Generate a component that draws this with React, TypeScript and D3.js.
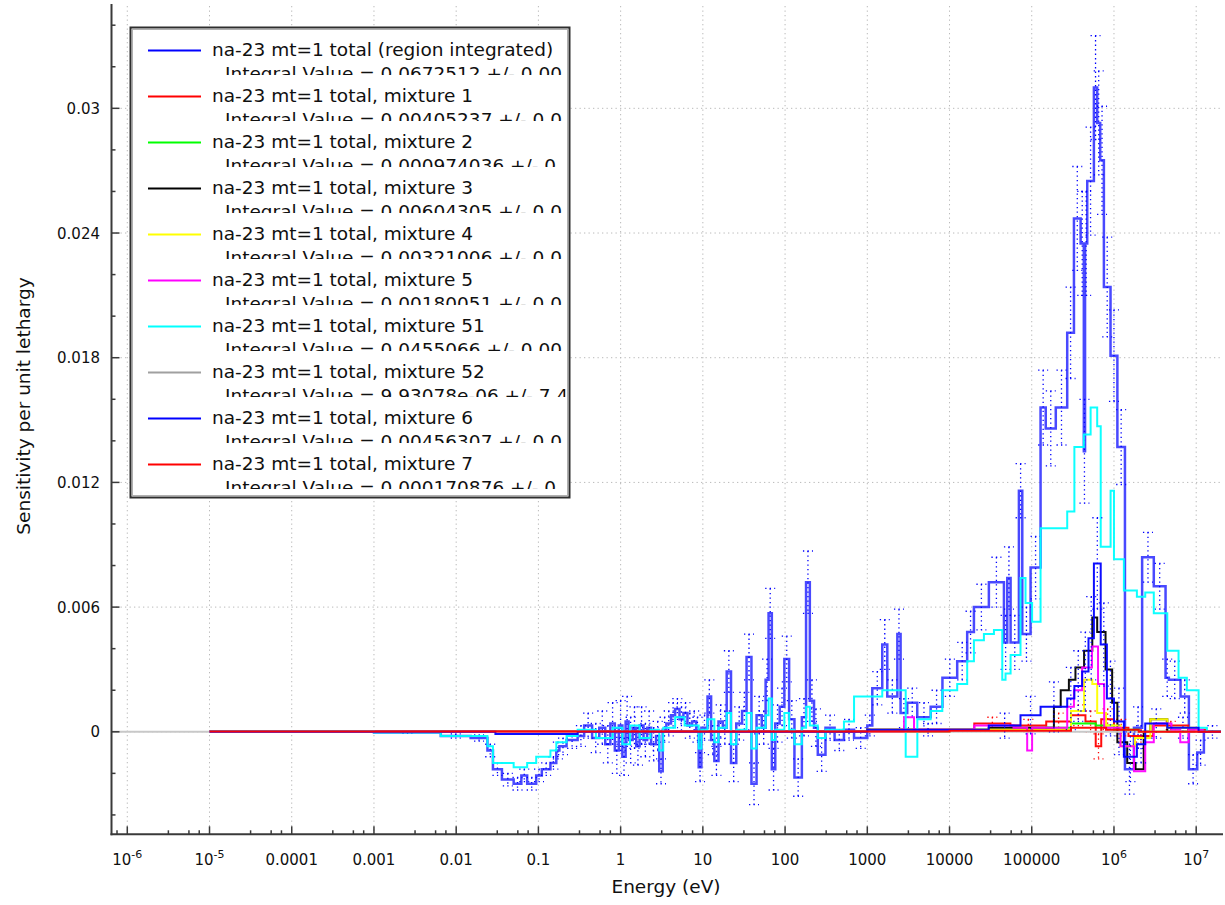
import React from "react";
import * as d3 from "d3";

// Each bin: [lower energy edge (eV), sensitivity per unit lethargy, 1-sigma uncertainty]
type Bin = [number, number, number];

const ENERGY_END = 2.0e7;

const regionIntegrated: Bin[] = [
  [1e-5, 0.00001, 0.00002], [1e-4, 0.0, 0.00002], [1e-3, -0.00003, 0.00004],
  [0.0065, -0.0002, 0.0001], [0.015, -0.0003, 0.00015], [0.024, -0.0009, 0.0003],
  [0.028, -0.0018, 0.0003], [0.036, -0.0023, 0.0003], [0.05, -0.0025, 0.0003],
  [0.062, -0.0021, 0.0003], [0.073, -0.0025, 0.0003], [0.094, -0.0021, 0.0003],
  [0.11, -0.0018, 0.0003], [0.14, -0.0015, 0.0003], [0.165, -0.0009, 0.0004],
  [0.18, -0.0007, 0.0004], [0.22, -0.0004, 0.0004], [0.3, -0.0002, 0.0005],
  [0.36, 0.0003, 0.0006], [0.45, -0.0003, 0.0007], [0.55, 0.0002, 0.0008],
  [0.65, -0.0006, 0.0009], [0.75, 0.0004, 0.001], [0.85, -0.0009, 0.0011],
  [0.95, 0.0003, 0.0012], [1.05, -0.0012, 0.0009], [1.15, 0.0005, 0.0012],
  [1.25, -0.0004, 0.0011], [1.4, 0.0002, 0.001], [1.55, -0.0007, 0.0009],
  [1.7, 0.0003, 0.0009], [1.9, -0.0004, 0.0008], [2.1, 0.0002, 0.0008],
  [2.35, -0.0006, 0.0008], [2.7, -0.0002, 0.0007], [2.95, -0.0019, 0.0006],
  [3.25, 0.0001, 0.0006], [3.6, 0.0004, 0.0006], [4.1, 0.0008, 0.0006],
  [4.6, 0.0011, 0.0005], [5.2, 0.0006, 0.0006], [5.8, 0.0009, 0.0005],
  [6.5, 0.0003, 0.0006], [7.4, 0.0005, 0.0005], [8.3, 0.0001, 0.0006],
  [8.9, -0.0017, 0.0007], [9.6, 0.0002, 0.0006], [11.4, 0.0017, 0.0008],
  [12.6, -0.0004, 0.0007], [13.8, -0.0014, 0.0007], [15.5, 0.0005, 0.0008],
  [17.5, 0.0002, 0.0008], [19.5, 0.0029, 0.001], [22, -0.0015, 0.0009],
  [25.5, 0.0004, 0.0008], [30, 0.001, 0.0009], [34, 0.0036, 0.0011],
  [39, -0.0025, 0.001], [45, 0.0008, 0.0009], [52, 0.0002, 0.0008],
  [58, 0.0025, 0.001], [63, 0.0057, 0.0012], [69, -0.0018, 0.001],
  [76, 0.0004, 0.0009], [86, 0.0012, 0.0009], [98, 0.0035, 0.0011],
  [112, 0.0006, 0.0009], [130, -0.0022, 0.0009], [160, 0.0007, 0.0009],
  [180, 0.0072, 0.0015], [200, 0.0015, 0.001], [225, 0.0002, 0.0009],
  [250, -0.0011, 0.0008], [310, 0.0002, 0.0006], [400, -0.0004, 0.0005],
  [520, 0.0001, 0.0005], [690, -0.0003, 0.0005], [1000, 0.0003, 0.0005],
  [1150, 0.0021, 0.0008], [1520, 0.0042, 0.0012], [1750, 0.0017, 0.0008],
  [2320, 0.0047, 0.0012], [2540, 0.0009, 0.0007], [3060, 0.0014, 0.0007],
  [4050, 0.0007, 0.0007], [5900, 0.0012, 0.0008], [8200, 0.0026, 0.0009],
  [12400, 0.0034, 0.0009], [16400, 0.0048, 0.001], [19800, 0.006, 0.0011],
  [30100, 0.0072, 0.0012], [45900, 0.0043, 0.0013], [50400, 0.0074, 0.0015],
  [55300, 0.0043, 0.0013], [69800, 0.0116, 0.0013], [76700, 0.0047, 0.0013],
  [96800, 0.0079, 0.0015], [128000, 0.0156, 0.0018], [148000, 0.0146, 0.0018],
  [196000, 0.0156, 0.0018], [270000, 0.0192, 0.0022], [326000, 0.0247, 0.0025],
  [393000, 0.0235, 0.0025], [430000, 0.0135, 0.0025], [445000, 0.0235, 0.0025],
  [473000, 0.0265, 0.0026], [570000, 0.031, 0.0025], [625000, 0.0293, 0.0025],
  [680000, 0.0275, 0.0026], [754000, 0.0214, 0.0024], [908000, 0.0181, 0.0022],
  [1.1e6, 0.0137, 0.0018], [1.36e6, -0.0018, 0.0012], [1.75e6, 0.0002, 0.001],
  [2.2e6, 0.0084, 0.0012], [3.05e6, 0.007, 0.0011], [4.24e6, 0.0026, 0.0009],
  [4.65e6, 0.0025, 0.0009], [6.45e6, 0.0017, 0.0008], [8.15e6, -0.0018, 0.0007],
  [1.03e7, -0.001, 0.0006], [1.24e7, 0.0, 0.0003],
];

const mixture1: Bin[] = [
  [1e-5, 0.00003, 0], [1000, 0.0001, 0], [20000, 0.0004, 0.0003], [55000, 0.0003, 0.0003],
  [150000, 0.0005, 0.0004], [300000, 0.0008, 0.0005], [450000, 0.0005, 0.0005],
  [600000, -0.0007, 0.0006], [700000, 0.0006, 0.0005], [1.0e6, 0.0002, 0.0004],
  [1.5e6, -0.0002, 0.0003], [3.0e6, 0.0003, 0.0002], [8.0e6, 0.0001, 0], [1.3e7, 0, 0],
];

const mixture2: Bin[] = [
  [1e-5, 0, 0], [10000, 0.0001, 0], [150000, 0.0002, 0], [300000, 0.0004, 0],
  [600000, 0.0003, 0], [1.0e6, 0.0001, 0], [2.0e6, 0, 0],
];

const mixture3: Bin[] = [
  [1e-5, 0, 0], [1000, 0.0001, 0], [30000, 0.0002, 0], [106000, 0.0002, 0],
  [186000, 0.0012, 0], [225000, 0.002, 0], [283000, 0.0025, 0], [340000, 0.0031, 0],
  [433000, 0.0039, 0], [545000, 0.0055, 0], [625000, 0.0048, 0], [790000, 0.003, 0],
  [950000, 0.0014, 0], [1.1e6, -0.0005, 0], [1.45e6, -0.0015, 0], [1.83e6, -0.0018, 0],
  [2.3e6, 0, 0], [2.77e6, 0.0006, 0], [4.45e6, 0, 0],
];

const mixture4: Bin[] = [
  [1e-5, 0, 0], [1000, 0.0001, 0], [300000, 0.001, 0], [433000, 0.0025, 0],
  [545000, 0.0023, 0], [625000, 0.0009, 0], [800000, 0.0003, 0], [1.2e6, -0.0007, 0],
  [1.8e6, -0.0003, 0], [2.77e6, 0.0006, 0], [4.45e6, 0.0002, 0], [1.0e7, 0, 0],
];

const mixture5: Bin[] = [
  [1e-5, 0, 0], [2800, 0.0007, 0], [3700, 0.0001, 0], [20000, 0.0003, 0],
  [60000, 0.0002, 0], [88000, -0.0009, 0], [101000, 0.0002, 0], [270000, 0.0012, 0],
  [326000, 0.002, 0], [410000, 0.0031, 0], [540000, 0.0041, 0], [640000, 0.0023, 0],
  [760000, 0.0002, 0], [1.2e6, -0.0007, 0], [1.75e6, -0.0019, 0], [2.4e6, -0.0005, 0],
  [3.05e6, 0.0004, 0], [5.0e6, 0.0001, 0], [6.4e6, -0.0005, 0], [8.1e6, 0.0001, 0], [1.2e7, 0, 0],
];

const mixture51: Bin[] = [
  [1e-5, 0.00001, 0], [1e-3, -0.00003, 0], [0.0065, -0.0002, 0], [0.024, -0.0007, 0],
  [0.028, -0.0015, 0], [0.05, -0.0017, 0], [0.073, -0.0015, 0], [0.094, -0.0012, 0],
  [0.14, -0.0009, 0], [0.165, -0.0005, 0], [0.22, -0.0002, 0], [0.3, 0.0001, 0],
  [0.5, -0.0003, 0], [0.8, 0.0002, 0], [1.05, -0.0006, 0], [1.3, 0.0003, 0],
  [1.7, -0.0003, 0], [2.3, 0.0001, 0], [2.95, -0.0009, 0], [3.3, 0.0002, 0],
  [4.6, 0.0007, 0], [6, 0.0003, 0], [8.9, -0.0008, 0], [9.6, 0.0001, 0],
  [11.4, 0.0006, 0], [13.8, -0.0005, 0], [15.5, 0.0002, 0], [19.5, 0.0009, 0],
  [22, -0.0006, 0], [25.5, 0.0001, 0], [34, 0.0009, 0], [39, -0.0008, 0],
  [45, 0.0002, 0], [58, 0.0008, 0], [63, 0.0016, 0], [69, -0.0004, 0],
  [76, 0.0001, 0], [98, 0.0009, 0], [112, 0.0001, 0], [130, -0.0006, 0],
  [160, 0.0002, 0], [180, 0.0012, 0], [200, 0.0003, 0], [250, -0.0003, 0],
  [310, 0.0001, 0], [520, 0.0005, 0], [690, 0.0017, 0], [1520, 0.002, 0],
  [2930, -0.0012, 0], [4060, 0.0006, 0], [5900, 0.001, 0], [8170, 0.002, 0],
  [12400, 0.0023, 0], [16400, 0.0034, 0], [19800, 0.0044, 0], [26200, 0.0047, 0],
  [34700, 0.0049, 0], [43800, 0.0025, 0], [48000, 0.0028, 0], [55300, 0.0037, 0],
  [73000, 0.0074, 0], [84000, 0.0062, 0], [101000, 0.0053, 0], [128000, 0.0098, 0],
  [270000, 0.0106, 0], [330000, 0.0137, 0], [430000, 0.0143, 0], [520000, 0.0156, 0],
  [625000, 0.0147, 0], [690000, 0.0089, 0], [910000, 0.0116, 0], [1.0e6, 0.0083, 0],
  [1.32e6, 0.0068, 0], [1.9e6, 0.0065, 0], [2.4e6, 0.0067, 0], [3.05e6, 0.0057, 0],
  [4.45e6, 0.0039, 0], [6.1e6, 0.0026, 0], [7.7e6, 0.002, 0], [1.07e7, 0.0002, 0],
  [1.35e7, 0, 0],
];

const mixture52: Bin[] = [
  [6.5e-7, 0, 0], [1e-5, 0, 0], [1e3, 0, 0], [1e6, 0, 0],
];

const mixture6: Bin[] = [
  [1e-5, 0, 0], [0.03, -0.0001, 0], [0.3, 0.0, 0], [1000, 0.0001, 0.0003],
  [30000, 0.0003, 0.0006], [73000, 0.0008, 0.0009], [128000, 0.0012, 0.0012],
  [270000, 0.0016, 0.0015], [330000, 0.0022, 0.0017], [410000, 0.0029, 0.0019],
  [490000, 0.0045, 0.002], [570000, 0.0081, 0.0022], [690000, 0.0042, 0.002],
  [820000, 0.0016, 0.0018], [1.0e6, 0.0005, 0.0016], [1.32e6, -0.0012, 0.0012],
  [1.9e6, -0.0006, 0.0009], [2.4e6, 0.0004, 0.0007], [4.45e6, 0.0002, 0.0005],
  [1.07e7, 0, 0],
];

const mixture7: Bin[] = [
  [1e-5, 0.00002, 0], [10000, 0.00005, 0], [300000, 0.0002, 0], [800000, 0.0001, 0], [2.0e6, 0, 0],
];

const seriesNames = [
  "na-23 mt=1 total (region integrated)",
  "na-23 mt=1 total, mixture 1",
  "na-23 mt=1 total, mixture 2",
  "na-23 mt=1 total, mixture 3",
  "na-23 mt=1 total, mixture 4",
  "na-23 mt=1 total, mixture 5",
  "na-23 mt=1 total, mixture 51",
  "na-23 mt=1 total, mixture 52",
  "na-23 mt=1 total, mixture 6",
  "na-23 mt=1 total, mixture 7",
];

const integralLabels = [
  "Integral Value = 0.0672512 +/- 0.00",
  "Integral Value = 0.00405237 +/- 0.0",
  "Integral Value = 0.000974036 +/- 0",
  "Integral Value = 0.00604305 +/- 0.0",
  "Integral Value = 0.00321006 +/- 0.0",
  "Integral Value = 0.00180051 +/- 0.0",
  "Integral Value = 0.0455066 +/- 0.00",
  "Integral Value = 9.93078e-06 +/- 7.4",
  "Integral Value = 0.00456307 +/- 0.0",
  "Integral Value = 0.000170876 +/- 0",
];

const seriesColors = [
  "#0000ff", "#ff0000", "#00ff00", "#000000", "#ffff00",
  "#ff00ff", "#00ffff", "#a0a0a0", "#0000ff", "#ff0000",
];

const seriesBins: Bin[][] = [
  regionIntegrated, mixture1, mixture2, mixture3, mixture4,
  mixture5, mixture51, mixture52, mixture6, mixture7,
];

// axis ticks
const xTickExponents = [-6, -5, -4, -3, -2, -1, 0, 1, 2, 3, 4, 5, 6, 7];
const xTickLabels: [string, string][] = [
  ["10", "-6"], ["10", "-5"], ["0.0001", ""], ["0.001", ""], ["0.01", ""], ["0.1", ""],
  ["1", ""], ["10", ""], ["100", ""], ["1000", ""], ["10000", ""], ["100000", ""],
  ["10", "6"], ["10", "7"],
];
const xMinorFactors = [3.16, 5.62, 7.5];
const yMajorTicks = [0, 0.006, 0.012, 0.018, 0.024, 0.03];
const yMajorLabels = ["0", "0.006", "0.012", "0.018", "0.024", "0.03"];
const yMinorTicks = [
  -0.004, -0.002, 0.002, 0.004, 0.008, 0.01, 0.014, 0.016,
  0.02, 0.022, 0.026, 0.028, 0.032, 0.034,
];

const W = 1225;
const H = 905;
const PLOT = { left: 111.5, right: 1223, top: 4, bottom: 834.3 };
const FONT = "'DejaVu Sans', Verdana, sans-serif";

export default function App() {
  const x = d3
    .scaleLog()
    .domain([Math.pow(10, -6.192), Math.pow(10, 7.326)])
    .range([PLOT.left, PLOT.right]);
  const y = d3.scaleLinear().domain([-0.004932, 0.03502]).range([PLOT.bottom, PLOT.top]);

  const stepLine = d3
    .line<[number, number]>()
    .x((d) => x(d[0]))
    .y((d) => y(d[1]))
    .curve(d3.curveStepAfter);

  const pathFor = (bins: Bin[]) => {
    const pts: [number, number][] = bins.map((b) => [b[0], b[1]]);
    pts.push([ENERGY_END, bins[bins.length - 1][1]]);
    return stepLine(pts) || "";
  };

  const errorBars = (bins: Bin[], color: string, key: string) =>
    bins.map((b, i) => {
      const s = b[2];
      if (!s) return null;
      const hi = i + 1 < bins.length ? bins[i + 1][0] : ENERGY_END;
      const cx = x(Math.sqrt(b[0] * hi));
      const y1 = y(b[1] + s);
      const y2 = y(b[1] - s);
      return (
        <g key={`${key}-${i}`} stroke={color} strokeWidth={1.3} strokeDasharray="1.3,3.2" fill="none">
          <line x1={cx} x2={cx} y1={y1} y2={y2} />
          <line x1={cx - 5} x2={cx + 5} y1={y1} y2={y1} />
          <line x1={cx - 5} x2={cx + 5} y1={y2} y2={y2} />
        </g>
      );
    });

  const xMinor: number[] = [];
  for (let k = -7; k <= 7; k++) {
    xMinorFactors.forEach((f) => {
      const v = f * Math.pow(10, k);
      const px = x(v);
      if (px > PLOT.left + 1 && px < PLOT.right) xMinor.push(v);
    });
  }

  const lineStyle = (i: number) => {
    if (i === 0) return { width: 2.5, opacity: 0.8, color: "#1c1cff" };
    if (i === 7) return { width: 2, opacity: 1, color: "#c8c8c8" };
    return { width: 2, opacity: 0.95, color: seriesColors[i] };
  };

  const legendX = 130.5;
  const legendY = 27.5;
  const legendW = 439;
  const legendH = 470;
  const rowH = 46;
  const firstBaseline = 56;

  return (
    <svg
      width={W}
      height={H}
      style={{ position: "absolute", left: 0, top: 0, background: "#ffffff" }}
      fontFamily={FONT}
    >
      <defs>
        <clipPath id="plot-clip">
          <rect x={PLOT.left} y={PLOT.top} width={PLOT.right - PLOT.left} height={PLOT.bottom - PLOT.top} />
        </clipPath>
        {seriesNames.map((_, i) => (
          <clipPath key={i} id={`legend-row-${i}`}>
            <rect x={legendX + 2} y={firstBaseline + rowH * i - 27} width={legendW - 6} height={46} />
          </clipPath>
        ))}
      </defs>

      <rect x={0} y={0} width={W} height={H} fill="#ffffff" />

      {/* grid */}
      <g stroke="#b9b9b9" strokeWidth={1} strokeDasharray="1.3,3.2">
        {xTickExponents.map((e) => (
          <line key={`gx${e}`} x1={x(Math.pow(10, e))} x2={x(Math.pow(10, e))} y1={PLOT.top + 2} y2={PLOT.bottom} />
        ))}
        {yMajorTicks.map((v) => (
          <line key={`gy${v}`} x1={PLOT.left} x2={PLOT.right} y1={y(v)} y2={y(v)} />
        ))}
      </g>

      {/* curves and their uncertainty bars */}
      <g clipPath="url(#plot-clip)">
        {seriesBins.map((bins, i) => {
          const st = lineStyle(i);
          return (
            <g key={`s${i}`}>
              <path
                d={pathFor(bins)}
                fill="none"
                stroke={st.color}
                strokeWidth={st.width}
                strokeOpacity={st.opacity}
                strokeLinejoin="miter"
              />
              {errorBars(bins, i === 0 || i === 8 ? "#0000ff" : seriesColors[i], `e${i}`)}
            </g>
          );
        })}
      </g>

      {/* axes */}
      <g stroke="#3a3a3a" fill="none">
        <line x1={PLOT.left} x2={PLOT.left} y1={PLOT.top} y2={PLOT.bottom + 1} strokeWidth={2} />
        <line x1={PLOT.left - 1} x2={PLOT.right} y1={PLOT.bottom} y2={PLOT.bottom} strokeWidth={2} />
        {xTickExponents.map((e) => (
          <line key={`tx${e}`} x1={x(Math.pow(10, e))} x2={x(Math.pow(10, e))} y1={PLOT.bottom} y2={PLOT.bottom - 8} strokeWidth={1.5} />
        ))}
        {xMinor.map((v, i) => (
          <line key={`mx${i}`} x1={x(v)} x2={x(v)} y1={PLOT.bottom} y2={PLOT.bottom - 4} strokeWidth={1.5} />
        ))}
        {yMajorTicks.map((v) => (
          <line key={`ty${v}`} x1={PLOT.left} x2={PLOT.left + 8} y1={y(v)} y2={y(v)} strokeWidth={1.5} />
        ))}
        {yMinorTicks.map((v) => (
          <line key={`my${v}`} x1={PLOT.left} x2={PLOT.left + 4} y1={y(v)} y2={y(v)} strokeWidth={1.5} />
        ))}
      </g>

      {/* tick labels */}
      <g fill="#101010" fontSize={15}>
        {xTickExponents.map((e, i) => (
          <text key={`lx${e}`} x={x(Math.pow(10, e))} y={865} textAnchor="middle">
            <tspan>{xTickLabels[i][0]}</tspan>
            {xTickLabels[i][1] ? (
              <tspan dy={-7} fontSize={11}>
                {xTickLabels[i][1]}
              </tspan>
            ) : null}
          </text>
        ))}
        {yMajorTicks.map((v, i) => (
          <text key={`ly${v}`} x={100} y={y(v) + 5.5} textAnchor="end">
            {yMajorLabels[i]}
          </text>
        ))}
      </g>

      {/* axis titles */}
      <text x={666} y={893} textAnchor="middle" fontSize={18.5} fill="#101010">
        Energy (eV)
      </text>
      <text
        transform={`translate(30, 406) rotate(-90)`}
        textAnchor="middle"
        fontSize={18.5}
        fill="#101010"
      >
        Sensitivity per unit lethargy
      </text>

      {/* legend */}
      <rect x={legendX} y={legendY} width={legendW} height={legendH} fill="#ffffff" stroke="#2e2e2e" strokeWidth={2} />
      <rect
        x={legendX + 2}
        y={legendY + 2}
        width={legendW - 4}
        height={legendH - 4}
        fill="none"
        stroke="#b0b0b0"
        strokeWidth={1}
      />
      <g fontSize={18.5} fill="#101010">
        {seriesNames.map((name, i) => {
          const base = firstBaseline + rowH * i;
          return (
            <g key={`lg${i}`} clipPath={`url(#legend-row-${i})`}>
              <line
                x1={148}
                x2={201}
                y1={base - 5.5}
                y2={base - 5.5}
                stroke={i === 7 ? "#a0a0a0" : seriesColors[i]}
                strokeWidth={2}
              />
              <text x={212} y={base}>
                {name}
              </text>
              <text x={225} y={base + 24}>
                {integralLabels[i]}
              </text>
            </g>
          );
        })}
      </g>
    </svg>
  );
}
